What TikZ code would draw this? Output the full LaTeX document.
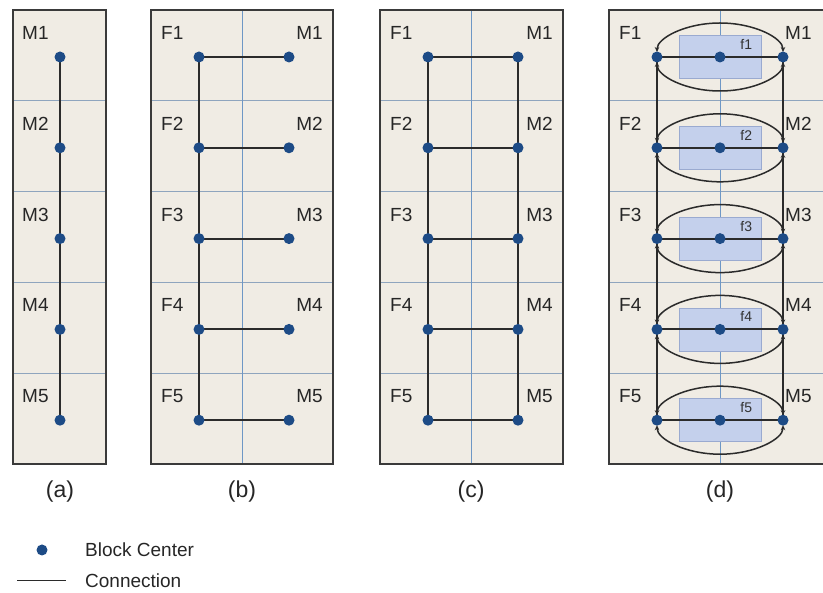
\documentclass[tikz,border=0pt]{standalone}
\usepackage{fontspec}
\setmainfont{Liberation Sans}
\usepackage{tikz}
\usetikzlibrary{arrows.meta}
\usetikzlibrary{calc}

\definecolor{panelbg}{HTML}{F0ECE4}
\definecolor{gridline}{HTML}{8FA5BE}
\definecolor{midline}{HTML}{6E97C5}
\definecolor{blockdot}{HTML}{1D4B86}
\definecolor{frame}{HTML}{3A3A3A}
\definecolor{wirecol}{HTML}{2B2B2B}
\definecolor{boxfill}{HTML}{C4D0EC}
\definecolor{boxedge}{HTML}{9AAAD0}

\tikzset{
  panel/.style={draw=frame, line width=2pt, fill=panelbg},
  divider/.style={draw=gridline, line width=0.8pt},
  middiv/.style={draw=midline, line width=1pt},
  blkdot/.style={circle, fill=blockdot, inner sep=0pt, minimum size=11pt},
  wire/.style={draw=wirecol, line width=1.9pt},
  loopwire/.style={draw=wirecol, line width=1.5pt, {Stealth[length=5pt,width=4.5pt]}-{Stealth[length=5pt,width=4.5pt]}, shorten <=5pt, shorten >=5pt},
  cell/.style={font=\fontsize{19}{22}\selectfont, text=black!85, inner sep=0pt},
  small/.style={font=\fontsize{14}{16}\selectfont, text=black!80, inner sep=0pt},
  caption/.style={font=\fontsize{23}{26}\selectfont, text=black!85, inner sep=0pt},
  fbox/.style={fill=boxfill, draw=boxedge, line width=0.6pt, minimum width=82pt, minimum height=43pt, inner sep=0pt},
}

\begin{document}
\begin{tikzpicture}[x=1pt, y=-1pt]
  \clip (0,0) rectangle (823,593);

  % panels
  \draw[panel] (13,10) rectangle (106,464);
  \draw[panel] (151,10) rectangle (333,464);
  \draw[panel] (380,10) rectangle (563,464);
  \draw[panel] (609,10) rectangle (831,464);

  % row dividers and middle lines
  \foreach \y in {100.8,191.6,282.4,373.2} {
    \draw[divider] (14,\y) -- (105,\y);
    \draw[divider] (152,\y) -- (332,\y);
    \draw[divider] (381,\y) -- (562,\y);
    \draw[divider] (610,\y) -- (830,\y);
  }
  \draw[middiv] (242,11) -- (242,463);
  \draw[middiv] (471,11) -- (471,463);
  \draw[middiv] (720,11) -- (720,463);

  % block centres and labels
  \foreach \i in {1,...,5} {
    \pgfmathsetmacro{\yd}{57+90.8*(\i-1)}
    \pgfmathsetmacro{\yl}{33+90.8*(\i-1)}
    \coordinate (a\i) at (60,\yd);
    \coordinate (bf\i) at (199,\yd);
    \coordinate (bm\i) at (289,\yd);
    \coordinate (cf\i) at (428,\yd);
    \coordinate (cm\i) at (518,\yd);
    \coordinate (df\i) at (657,\yd);
    \coordinate (dc\i) at (720,\yd);
    \coordinate (dm\i) at (783,\yd);
    \node[cell, anchor=west] (am\i) at (22,\yl) {M\i};
    \node[cell, anchor=west] (bfl\i) at (161,\yl) {F\i};
    \node[cell, anchor=east] (bml\i) at (323,\yl) {M\i};
    \node[cell, anchor=west] (cfl\i) at (390,\yl) {F\i};
    \node[cell, anchor=east] (cml\i) at (553,\yl) {M\i};
    \node[cell, anchor=west] (dfl\i) at (619,\yl) {F\i};
    \node[cell, anchor=west] (dml\i) at (785,\yl) {M\i};
    \node[fbox] (dbox\i) at (dc\i) {};
    \node[small, anchor=north east] (dbl\i) at ($(dbox\i.north east)+(-9,4)$) {f\i};
  }

  % connections
  \draw[wire] (a1) -- (a5);
  \draw[wire] (bf1) -- (bf5);
  \draw[wire] (cf1) -- (cf5);
  \draw[wire] (cm1) -- (cm5);
  \draw[wire] (df1) -- (df5);
  \draw[wire] (dm1) -- (dm5);
  \foreach \i in {1,...,5} {
    \draw[wire] (bf\i) -- (bm\i);
    \draw[wire] (cf\i) -- (cm\i);
    \draw[wire] (df\i) -- (dc\i) -- (dm\i);
    \draw[loopwire] (df\i) arc[start angle=180, end angle=360, x radius=63pt, y radius=34pt];
    \draw[loopwire] (df\i) arc[start angle=180, end angle=0, x radius=63pt, y radius=34pt];
  }

  % dots on top
  \foreach \i in {1,...,5} {
    \node[blkdot] at (a\i) {};
    \node[blkdot] at (bf\i) {};
    \node[blkdot] at (bm\i) {};
    \node[blkdot] at (cf\i) {};
    \node[blkdot] at (cm\i) {};
    \node[blkdot] at (df\i) {};
    \node[blkdot] at (dc\i) {};
    \node[blkdot] at (dm\i) {};
  }

  % captions
  \node[caption] (capa) at (60,492) {(a)};
  \node[caption] (capb) at (242,492) {(b)};
  \node[caption] (capc) at (471,492) {(c)};
  \node[caption] (capd) at (720,492) {(d)};

  % legend
  \node[blkdot] (legdot) at (42,550) {};
  \node[cell, anchor=west] (legdottxt) at (85,550) {Block Center};
  \coordinate (lega) at (17,581);
  \coordinate (legb) at (66,581);
  \draw[wirecol, line width=1pt] (lega) -- (legb);
  \node[cell, anchor=west] (legwiretxt) at (85,581) {Connection};
\end{tikzpicture}
\end{document}
